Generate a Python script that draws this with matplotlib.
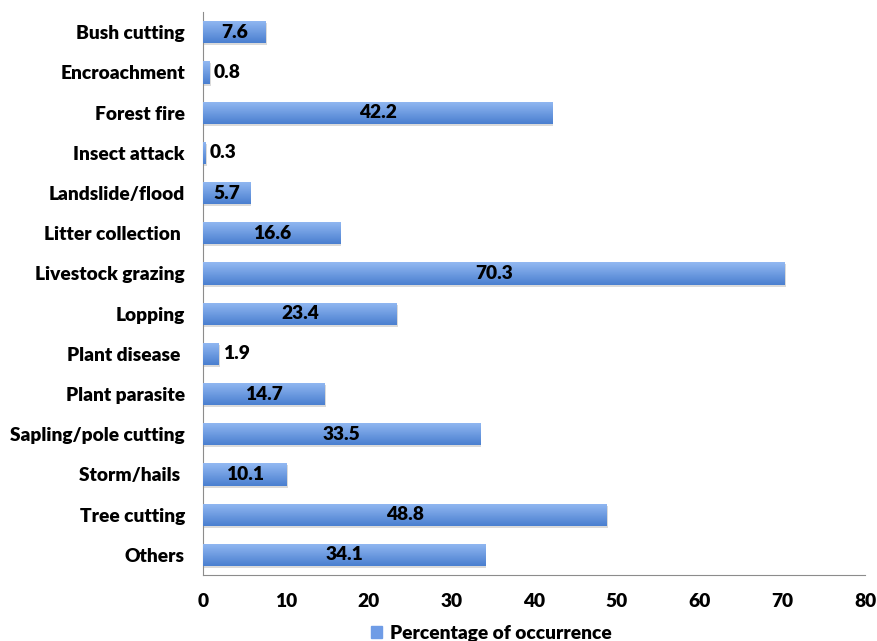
import matplotlib.pyplot as plt
import numpy as np
from matplotlib.colors import LinearSegmentedColormap

categories = ["Bush cutting", "Encroachment", "Forest fire", "Insect attack",
              "Landslide/flood", "Litter collection ", "Livestock grazing",
              "Lopping", "Plant disease ", "Plant parasite",
              "Sapling/pole cutting", "Storm/hails ", "Tree cutting", "Others"]
values = [7.6, 0.8, 42.2, 0.3, 5.7, 16.6, 70.3, 23.4, 1.9, 14.7, 33.5, 10.1, 48.8, 34.1]
xticks = [0, 10, 20, 30, 40, 50, 60, 70, 80]


def main():
    plt.rcParams['font.family'] = ['Lato', 'DejaVu Sans']
    plt.rcParams['font.weight'] = 'bold'
    fs = 13.8

    fig = plt.figure(figsize=(8.77, 6.41), dpi=100)
    ax = fig.add_axes([0.2315, 0.103, 0.755, 0.878])

    y = np.arange(len(categories))
    h = 0.55
    grad = LinearSegmentedColormap.from_list("bar", ["#4a7fd0", "#93b9f2"])
    shade = np.linspace(0, 1, 64).reshape(-1, 1)

    # faint shadow, then gradient-filled bars
    ax.barh(y + 0.05, values, height=h, left=0.12, color="#dadada", zorder=1)
    bars = ax.barh(y, values, height=h, color="#6f9ce6", zorder=2)
    for bar in bars:
        x0, y0 = bar.get_x(), bar.get_y()
        w, bh = bar.get_width(), bar.get_height()
        im = ax.imshow(shade, cmap=grad, aspect="auto", origin="lower",
                       extent=[x0, x0 + w, y0 + bh, y0], zorder=3,
                       interpolation="bicubic")
        im.set_clip_path(bar)

    for yi, v in zip(y, values):
        if v < 3:
            ax.text(v + 0.5, yi, f"{v}", va="center", ha="left",
                    fontsize=fs, fontweight="heavy", zorder=4)
        else:
            ax.text(v / 2, yi, f"{v}", va="center", ha="center",
                    fontsize=fs, fontweight="heavy", zorder=4)

    ax.set_xlim(0, 80)
    ax.set_ylim(len(categories) - 0.5, -0.5)
    ax.set_yticks(y)
    ax.set_yticklabels(categories, fontsize=fs, fontweight="heavy")
    ax.set_xticks(xticks)
    ax.set_xticklabels([str(t) for t in xticks], fontsize=fs, fontweight="heavy")
    ax.tick_params(axis="y", length=0, pad=13)
    ax.tick_params(axis="x", length=0, pad=13)

    for s in ["top", "right"]:
        ax.spines[s].set_visible(False)
    ax.spines["left"].set_color("#8c8c8c")
    ax.spines["bottom"].set_color("#8c8c8c")

    handle = plt.Rectangle((0, 0), 1, 1, color="#6f9ce6")
    fig.legend([handle], ["Percentage of occurrence"], loc="lower center",
               bbox_to_anchor=(0.56, -0.028), frameon=False,
               handlelength=0.6, handleheight=0.6, handletextpad=0.4,
               prop={"weight": "heavy", "size": fs})

    fig.savefig("out.png", dpi=100)


if __name__ == "__main__":
    main()
